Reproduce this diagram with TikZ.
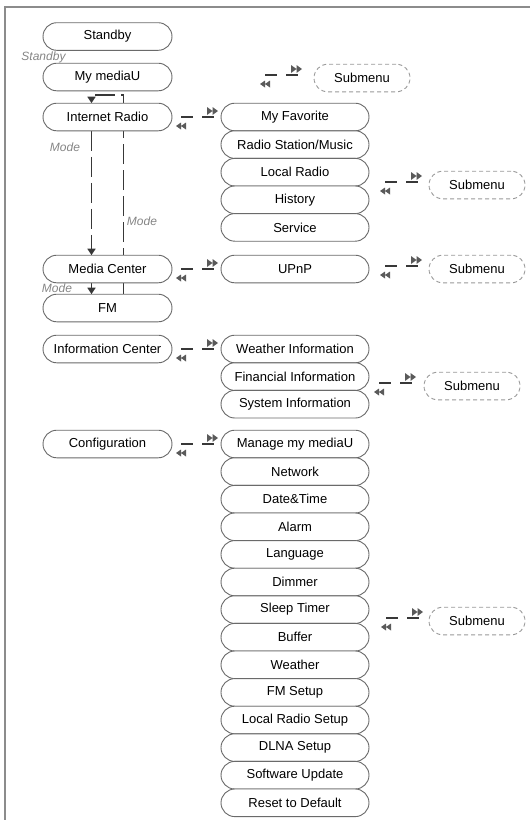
\documentclass[tikz,border=0pt]{standalone}
\usepackage{fontspec}
\setmainfont{Liberation Sans}
\usetikzlibrary{positioning,arrows.meta,backgrounds}
\definecolor{boxline}{HTML}{6A6A6A}
\definecolor{modegray}{HTML}{858585}
\definecolor{linedark}{HTML}{383838}
\definecolor{glyphgray}{HTML}{5A5A5A}
\definecolor{framegray}{HTML}{8C8C8C}

\begin{document}
\begin{tikzpicture}[x=1pt,y=1pt]
  \tikzset{menu/.style={draw=boxline,line width=0.9pt,fill=white,rounded corners=13.8pt,
      minimum height=27.6pt,inner sep=0pt,outer sep=0pt,text=black,
      font=\fontsize{13}{14}\selectfont}}
  \tikzset{leftmenu/.style={menu,minimum width=129pt}}
  \tikzset{rightmenu/.style={menu,minimum width=148pt}}
  \tikzset{submenu/.style={menu,draw=black!40,dash pattern=on 4pt off 3pt,minimum width=96pt}}
  \tikzset{modeline/.style={draw=linedark,line width=1.8pt,dash pattern=on 20pt off 6pt,
      -{Triangle[length=6.5pt,width=8pt]}}}
  \tikzset{modelabel/.style={text=modegray,inner sep=0pt,font=\fontsize{12}{14}\selectfont\itshape}}
  \tikzset{navpair/.pic={
      \draw[linedark,line width=1.5pt] (-33,0) -- (-21,0) (-12,0) -- (0,0);
      \fill[glyphgray] (-7,2) -- (-1.5,6) -- (-7,10) -- cycle (-1.5,2) -- (4,6) -- (-1.5,10) -- cycle;
      \fill[glyphgray] (-28,-5.5) -- (-33,-9) -- (-28,-12.5) -- cycle (-33,-5.5) -- (-38,-9) -- (-33,-12.5) -- cycle;
  }}
  \useasboundingbox (0,0) rectangle (530,-820);
  \draw[framegray,line width=1.2pt] (5,-820) -- (5,-7) -- (530,-7);

  % main menu
  \node[leftmenu] (standby) at (107.5,-36.5) {Standby};
  \node[leftmenu] (mymediau) at (107.5,-77) {My mediaU};
  \node[leftmenu] (iradio) at (107.5,-117) {Internet Radio};
  \node[leftmenu] (mcenter) at (107.5,-269) {Media Center};
  \node[leftmenu] (fm) at (107.5,-308) {FM};
  \node[leftmenu] (icenter) at (107.5,-349) {Information Center};
  \node[leftmenu] (config) at (107.5,-444) {Configuration};

  % internet radio
  \node[rightmenu] (fav) at (295,-117) {My Favorite};
  \node[rightmenu,below=0pt of fav] (station) {Radio Station/Music};
  \node[rightmenu,below=0pt of station] (local) {Local Radio};
  \node[rightmenu,below=0pt of local] (history) {History};
  \node[rightmenu,below=0pt of history] (service) {Service};

  % media center
  \node[rightmenu] (upnp) at (295,-269) {UPnP};

  % information center
  \node[rightmenu] (winfo) at (295,-349) {Weather Information};
  \node[rightmenu,below=0pt of winfo] (finfo) {Financial Information};
  \node[rightmenu,below=0pt of finfo] (sinfo) {System Information};

  % configuration
  \node[rightmenu] (cfg1) at (295,-444) {Manage my mediaU};
  \foreach \txt [count=\i from 2, remember=\i as \last (initially 1)] in
      {Network,Date\&Time,Alarm,Language,Dimmer,Sleep Timer,Buffer,Weather,
       FM Setup,Local Radio Setup,DLNA Setup,Software Update,Reset to Default}
    \node[rightmenu,below=0pt of cfg\last] (cfg\i) {\txt};

  % submenus
  \node[submenu] (sub1) at (362,-78) {Submenu};
  \node[submenu] (sub2) at (477,-185) {Submenu};
  \node[submenu] (sub3) at (477,-269) {Submenu};
  \node[submenu] (sub4) at (472,-386) {Submenu};
  \node[submenu] (sub5) at (477,-621) {Submenu};

  \pic at ([xshift=-16pt,yshift=3pt]sub1.west) {navpair};
  \pic at ([xshift=-7pt]fav.west) {navpair};
  \pic at ([xshift=-11pt,yshift=3pt]sub2.west) {navpair};
  \pic at ([xshift=-7pt]upnp.west) {navpair};
  \pic at ([xshift=-11pt,yshift=3pt]sub3.west) {navpair};
  \pic at ([xshift=-7pt]winfo.west) {navpair};
  \pic at ([xshift=-12pt,yshift=3pt]sub4.west) {navpair};
  \pic at ([xshift=-7pt]cfg1.west) {navpair};
  \pic at ([xshift=-10pt,yshift=3pt]sub5.west) {navpair};

  % mode loop
  \begin{scope}[on background layer]
    \draw[modeline] ([xshift=-16pt]iradio.south) -- ([xshift=-16pt]mcenter.north);
    \draw[modeline] ([xshift=-16pt]mcenter.south) -- ([xshift=-16pt]fm.north);
    \coordinate (looptop) at ([yshift=8pt]iradio.north);
    \draw[modeline] ([xshift=16pt]fm.north) |- ([xshift=-16pt]looptop) -- ([xshift=-16pt]iradio.north);
  \end{scope}

  \node[modelabel] (lblstandby) at (43.5,-57) {Standby};
  \node[modelabel] (lblmode1) at (65,-147) {Mode};
  \node[modelabel] (lblmode2) at (142,-221) {Mode};
  \node[modelabel] (lblmode3) at (57,-288) {Mode};
\end{tikzpicture}
\end{document}
